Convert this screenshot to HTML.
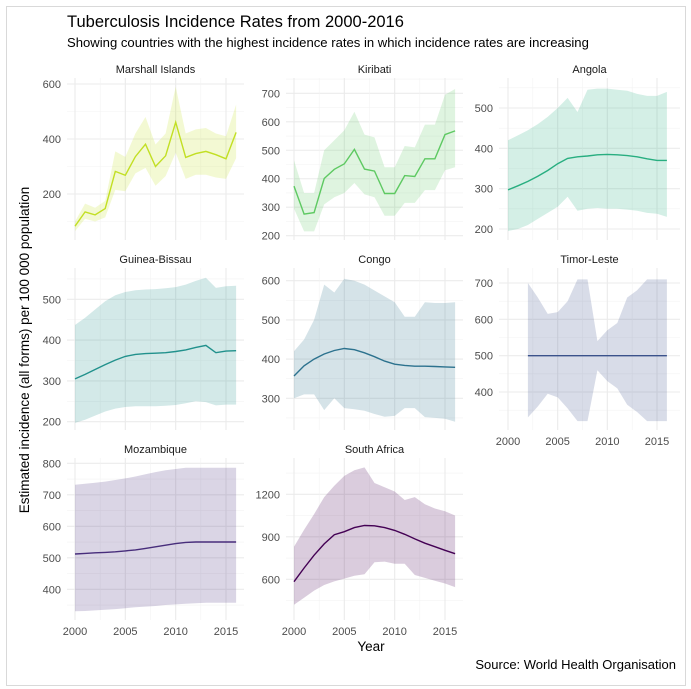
<!DOCTYPE html>
<html><head><meta charset="utf-8"><style>
body{margin:0;background:#fff}
svg{display:block;font-family:"Liberation Sans",sans-serif}
</style></head><body>
<svg id="chart" width="691" height="689" xmlns="http://www.w3.org/2000/svg">
<rect x="6.5" y="6.5" width="679" height="679" fill="#fff" stroke="#d9d9d9"/>
<text x="67" y="27" font-size="16.5" fill="#000">Tuberculosis Incidence Rates from 2000-2016</text>
<text x="67" y="47" font-size="13.1" fill="#000">Showing countries with the highest incidence rates in which incidence rates are increasing</text>
<text transform="translate(29,350) rotate(-90)" text-anchor="middle" font-size="13.5" fill="#000">Estimated incidence (all forms) per 100 000 population</text>
<text x="371" y="651" text-anchor="middle" font-size="13.5" fill="#000">Year</text>
<text x="676" y="669" text-anchor="end" font-size="13" fill="#000">Source: World Health Organisation</text>
<g id="panels"></g>
</svg>
<script>
const years = [2000,2001,2002,2003,2004,2005,2006,2007,2008,2009,2010,2011,2012,2013,2014,2015,2016];
const timorYears = [2002,2003,2004,2005,2006,2007,2008,2009,2010,2011,2012,2013,2014,2015,2016];
const countries = ["Marshall Islands","Kiribati","Angola","Guinea-Bissau","Congo","Timor-Leste","Mozambique","South Africa"];
const marshallVal = [83,135,124,147,282,268,336,381,300,339,461,333,347,355,343,328,424];
const marshallHi = [100,165,150,175,355,335,420,480,380,420,590,420,435,440,420,410,525];
const marshallLo = [65,110,100,115,215,210,275,295,230,265,350,255,270,270,260,255,330];
const kiribatiVal = [374,276,281,401,433,452,503,434,427,348,348,411,408,470,470,555,568];
const kiribatiHi = [465,350,350,500,535,570,635,555,545,440,440,515,510,590,590,695,715];
const kiribatiLo = [295,215,215,310,335,350,385,345,335,270,270,315,315,360,360,430,440];
const angolaVal = [297,307,318,331,345,362,375,379,381,384,385,384,382,379,374,370,370];
const angolaHi = [420,432,445,460,478,500,525,490,545,548,548,545,543,535,530,530,540];
const angolaLo = [195,200,210,225,240,255,280,245,250,252,250,250,248,245,240,238,230];
const guineaVal = [305,316,328,340,351,360,365,367,368,369,372,376,382,387,369,373,374];
const guineaHi = [437,455,475,495,510,518,522,524,525,527,530,536,545,553,528,532,533];
const guineaLo = [197,205,215,225,232,236,238,238,238,239,241,245,250,248,240,242,242];
const congoVal = [357,383,400,413,422,427,424,416,406,395,387,384,382,382,381,380,379];
const congoHi = [420,450,500,590,570,605,600,590,575,560,545,508,508,545,543,543,545];
const congoLo = [300,310,310,270,300,275,272,268,260,253,255,275,275,252,250,248,240];
const timorVal = [500,500,500,500,500,500,500,500,500,500,500,500,500,500,500];
const timorHi = [700,660,615,620,650,710,710,540,570,590,660,680,710,710,710];
const timorLo = [330,360,395,385,355,320,320,460,430,410,365,345,320,320,320];
const mozVal = [512,514,516,517,519,522,525,530,535,540,545,549,550,550,550,550,550];
const mozHi = [732,735,738,742,747,752,758,765,772,778,782,786,786,786,786,786,786];
const mozLo = [330,331,333,335,337,340,343,345,347,350,352,354,356,357,357,357,357];
const saVal = [583,680,770,850,915,936,965,980,978,965,945,918,885,855,830,805,781];
const saHi = [830,950,1060,1180,1260,1330,1370,1390,1280,1250,1220,1160,1180,1130,1100,1080,1050];
const saLo = [420,470,520,560,585,605,625,635,720,725,710,710,630,610,590,570,545];
const marshallTicks = [200,400,600];
const kiribatiTicks = [200,300,400,500,600,700];
const angolaTicks = [200,300,400,500];
const guineaTicks = [200,300,400,500];
const congoTicks = [300,400,500,600];
const timorTicks = [400,500,600,700];
const mozTicks = [400,500,600,700,800];
const saTicks = [600,900,1200];
const xTicks = [2000,2005,2010,2015];

const cols = [{x0:67,x1:244,a:75,b:226},{x0:286,x1:463,a:294,b:445},{x0:499,x1:680,a:508,b:657}];
const rows = [{y0:78,y1:240},{y0:268,y1:430},{y0:458,y1:620}];
const panels = [
 {c:0,r:0,yr:[600,84,200,194],x:years,v:marshallVal,h:marshallHi,l:marshallLo,t:marshallTicks,col:"#c2df23",xl:false},
 {c:1,r:0,yr:[700,93.3,200,235.7],x:years,v:kiribatiVal,h:kiribatiHi,l:kiribatiLo,t:kiribatiTicks,col:"#5ec962",xl:false},
 {c:2,r:0,yr:[500,108,200,229],x:years,v:angolaVal,h:angolaHi,l:angolaLo,t:angolaTicks,col:"#28ae80",xl:false},
 {c:0,r:1,yr:[500,299.3,200,421.7],x:years,v:guineaVal,h:guineaHi,l:guineaLo,t:guineaTicks,col:"#21918c",xl:false},
 {c:1,r:1,yr:[600,280.7,300,398.3],x:years,v:congoVal,h:congoHi,l:congoLo,t:congoTicks,col:"#2c728e",xl:false},
 {c:2,r:1,yr:[700,283,400,392],x:timorYears,v:timorVal,h:timorHi,l:timorLo,t:timorTicks,col:"#3b528b",xl:true},
 {c:0,r:2,yr:[800,463.3,400,589.3],x:years,v:mozVal,h:mozHi,l:mozLo,t:mozTicks,col:"#472d7b",xl:true},
 {c:1,r:2,yr:[1200,494.3,600,579.3],x:years,v:saVal,h:saHi,l:saLo,t:saTicks,col:"#440154",xl:true}
];
const NS="http://www.w3.org/2000/svg";
const root=document.getElementById('panels');
function mk(tag,attrs,parent){const e=document.createElementNS(NS,tag);for(const k in attrs)e.setAttribute(k,attrs[k]);parent.appendChild(e);return e;}
panels.forEach((p,i)=>{
  const C=cols[p.c],R=rows[p.r];
  const xs=yr=>C.a+(yr-2000)*(C.b-C.a)/15;
  const ys=v=>p.yr[1]+(v-p.yr[0])*(p.yr[3]-p.yr[1])/(p.yr[2]-p.yr[0]);
  const g=mk('g',{},root);
  
  
  const t=mk('text',{x:(C.x0+C.x1)/2,y:R.y0-5,'text-anchor':'middle','font-size':'11',fill:'#1a1a1a'},g);
  t.textContent=countries[i];
  
  
  const step=p.t[1]-p.t[0];
  for(let k=0;k<p.t.length+1;k++){
    const mv=p.t[0]-step/2+k*step; const y=ys(mv);
    if(y>R.y0&&y<R.y1){const ln=mk('line',{x1:C.x0,x2:C.x1,y1:y,y2:y,stroke:'#f3f3f3','stroke-width':0.6},g);
    
    }
  }
  p.t.forEach(v=>{const y=ys(v);
    const ln=mk('line',{x1:C.x0,x2:C.x1,y1:y,y2:y,stroke:'#ebebeb','stroke-width':1.1},g);
    
    
    const tx=mk('text',{x:C.x0-6,y:y+4,'text-anchor':'end','font-size':'11',fill:'#4d4d4d'},g);
    tx.textContent=v;
    
    });
  [2002.5,2007.5,2012.5].forEach(v=>{const x=xs(v);
    const ln=mk('line',{x1:x,x2:x,y1:R.y0,y2:R.y1,stroke:'#f3f3f3','stroke-width':0.6},g);
    
    });
  xTicks.forEach(v=>{const x=xs(v);
    const ln=mk('line',{x1:x,x2:x,y1:R.y0,y2:R.y1,stroke:'#ebebeb','stroke-width':1.1},g);
    
    
    if(p.xl){const tx=mk('text',{x:x,y:R.y1+15,'text-anchor':'middle','font-size':'11',fill:'#4d4d4d'},g);
      tx.textContent=v;
      
      }});
  let d='';
  p.x.forEach((yr,k)=>{d+=(k?'L':'M')+xs(yr).toFixed(1)+','+ys(p.h[k]).toFixed(1);});
  for(let k=p.x.length-1;k>=0;k--)d+='L'+xs(p.x[k]).toFixed(1)+','+ys(p.l[k]).toFixed(1);
  const rb=mk('path',{d:d+'Z',fill:p.col,'fill-opacity':0.2},g);
  
  
  const pts=p.x.map((yr,k)=>xs(yr).toFixed(1)+','+ys(p.v[k]).toFixed(1)).join(' ');
  const pl=mk('polyline',{points:pts,fill:'none',stroke:p.col,'stroke-width':1.4},g);
  
  
});
</script>
</body></html>
